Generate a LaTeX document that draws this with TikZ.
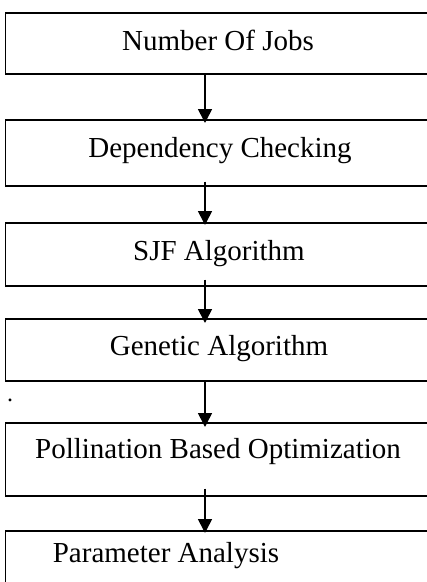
\documentclass[tikz,border=0pt]{standalone}
\usepackage{fontspec}
\setmainfont{Liberation Serif}
\usetikzlibrary{arrows.meta,calc}
\begin{document}
\begin{tikzpicture}[x=1pt,y=-1pt,
  box/.style={draw, line width=1.5pt, rectangle, anchor=north west, minimum width=440pt, inner sep=0pt},
  lbl/.style={anchor=base, inner sep=0pt, font=\fontsize{29}{34}\selectfont},
  flow/.style={-{Triangle[width=14pt,length=14pt]}, line width=1.6pt}]
\useasboundingbox (0,0) rectangle (427,582);
\clip (0,0) rectangle (427,582);
\node[box, minimum height=61pt] (b1) at (4.5,12) {};
\node[box, minimum height=66pt] (b2) at (4.5,119) {};
\node[box, minimum height=63pt] (b3) at (4.5,222) {};
\node[box, minimum height=62pt] (b4) at (4.5,318) {};
\node[box, minimum height=73pt] (b5) at (4.5,422) {};
\node[box, minimum height=90pt] (b6) at (4.5,530) {};
\node[lbl] (t1) at (218,50) {Number Of Jobs};
\node[lbl] (t2) at (220,157) {Dependency Checking};
\node[lbl] (t3) at (219,260) {SJF Algorithm};
\node[lbl] (t4) at (219,355) {Genetic Algorithm};
\node[lbl] (t5) at (218,458) {Pollination Based Optimization};
\node[lbl] (t6) at (166,562) {Parameter Analysis};
\node[anchor=base, inner sep=0pt, font=\fontsize{24}{28}\selectfont] (dot) at (10,401) {.};
\coordinate (ax) at (205,0);
\draw[flow] (b1.south -| ax) -- ($(b2.north -| ax)+(0,4)$);
\draw[flow] ($(b2.south -| ax)+(0,-5)$) -- ($(b3.north -| ax)+(0,3)$);
\draw[flow] ($(b3.south -| ax)+(0,-7)$) -- ($(b4.north -| ax)+(0,5)$);
\draw[flow] (b4.south -| ax) -- ($(b5.north -| ax)+(0,5)$);
\draw[flow] ($(b5.south -| ax)+(0,-8)$) -- ($(b6.north -| ax)+(0,3)$);
\end{tikzpicture}
\end{document}
